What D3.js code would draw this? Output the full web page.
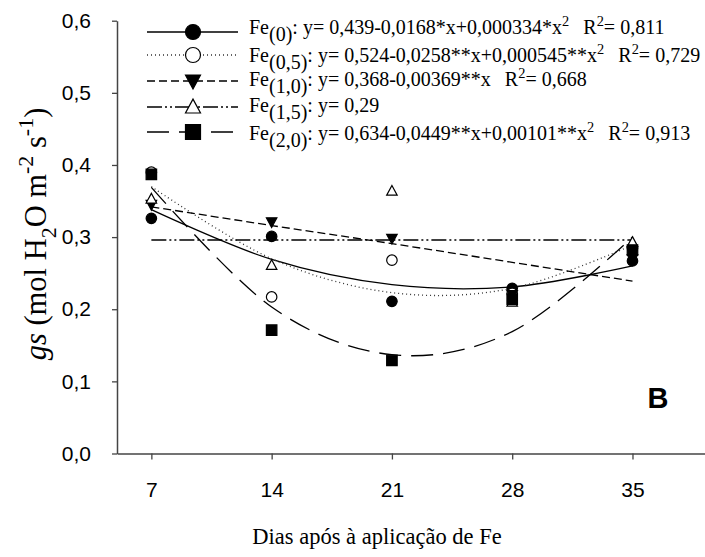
<!DOCTYPE html>
<html>
<head>
<meta charset="utf-8">
<script src="https://cdn.jsdelivr.net/npm/d3@7"></script>
<style>
  body { margin: 0; background: #fff; }
  svg { display: block; }
  .serif { font-family: 'Liberation Serif', 'Times New Roman', Times, 'DejaVu Serif', serif; }
  .sans { font-family: 'Liberation Sans', Arial, Helvetica, sans-serif; }
</style>
</head>
<body>
<svg id="chart" width="705" height="557"></svg>
<script>
// data
const days = [7, 14, 21, 28, 35];
const yTicks = [0, 0.1, 0.2, 0.3, 0.4, 0.5, 0.6];

const obsFe00 = [0.326, 0.301, 0.211, 0.229, 0.267];
const obsFe05 = [0.390, 0.217, 0.268, 0.222, 0.285];
const obsFe10 = [0.345, 0.321, 0.298, 0.220, 0.270];
const obsFe15 = [0.353, 0.261, 0.364, 0.210, 0.293];
const obsFe20 = [0.387, 0.171, 0.129, 0.214, 0.282];

// fitted values at each day (regression curves)
const fitFe00 = [0.338, 0.269, 0.234, 0.231, 0.260];
const fitFe05 = [0.370, 0.270, 0.223, 0.229, 0.289];
const fitFe10 = [0.342, 0.316, 0.291, 0.265, 0.239];
const fitFe15 = [0.296, 0.296, 0.296, 0.296, 0.296];
const fitFe20 = [0.369, 0.203, 0.137, 0.169, 0.300];

const doses = ['(0)', '(0,5)', '(1,0)', '(1,5)', '(2,0)'];
const equations = [
    'y= 0,439-0,0168*x+0,000334*x',
    'y= 0,524-0,0258**x+0,000545**x',
    'y= 0,368-0,00369**x',
    'y= 0,29',
    'y= 0,634-0,0449**x+0,00101**x'
];
const squared = [true, true, false, false, true];
const r2 = ['0,811', '0,729', '0,668', null, '0,913'];

const series = [
    { obs: obsFe00, fit: fitFe00, mark: 'circle', fill: '#000', dash: null, curve: d3.curveCatmullRom.alpha(0) },
    { obs: obsFe05, fit: fitFe05, mark: 'circle', fill: '#fff', dash: '1,3', curve: d3.curveCatmullRom.alpha(0) },
    { obs: obsFe10, fit: fitFe10, mark: 'tridown', fill: '#000', dash: '8,4', curve: d3.curveLinear },
    { obs: obsFe15, fit: fitFe15, mark: 'triup', fill: '#fff', dash: '15,3,2,3,2,3', curve: d3.curveLinear },
    { obs: obsFe20, fit: fitFe20, mark: 'square', fill: '#000', dash: '22,10', curve: d3.curveCatmullRom.alpha(0) }
];

const svg = d3.select('#chart');
const x = d3.scaleLinear().domain([5, 40]).range([117, 718.4]);
const y = d3.scaleLinear().domain([0, 0.6]).range([453.5, 20.7]);

// marker path, centred on 0,0
function markerPath(type, s) {
    const h = s / 2;
    if (type === 'square') return `M${-h},${-h}H${h}V${h}H${-h}Z`;
    if (type === 'triup') return `M0,${-h * 1.05}L${h},${h * 0.8}L${-h},${h * 0.8}Z`;
    if (type === 'tridown') return `M0,${h * 1.05}L${h},${-h * 0.8}L${-h},${-h * 0.8}Z`;
    return null;
}

function drawMarker(g, type, fill, cx, cy, s) {
    if (type === 'circle') {
        g.append('circle')
            .attr('cx', cx).attr('cy', cy).attr('r', s / 2)
            .attr('fill', fill).attr('stroke', '#000').attr('stroke-width', 1.2);
    } else {
        g.append('path')
            .attr('d', markerPath(type, s))
            .attr('transform', `translate(${cx},${cy})`)
            .attr('fill', fill).attr('stroke', '#000').attr('stroke-width', 1.2);
    }
}

// text made of pieces with sub/superscripts
function richText(sel, parts, size) {
    let shift = 0;
    parts.forEach(p => {
        let target = 0;
        if (p.sub) target = size * 0.33;
        if (p.sup) target = -size * 0.42;
        const small = p.sup || (p.sub && p.small);
        const t = sel.append('tspan')
            .text(p.t)
            .style('font-size', (small ? size * 0.72 : size) + 'px');
        if (p.italic) t.style('font-style', 'italic');
        const dy = target - shift;
        if (dy !== 0) t.attr('dy', dy);
        if (p.dx) t.attr('dx', p.dx);
        shift = target;
    });
}

// axes
const yAxis = d3.axisLeft(y)
    .tickValues(yTicks)
    .tickFormat(d => d3.format('.1f')(d).replace('.', ','))
    .tickSize(5)
    .tickSizeOuter(0)
    .tickPadding(21);

const xAxis = d3.axisBottom(x)
    .tickValues(days)
    .tickSize(6)
    .tickSizeOuter(0)
    .tickPadding(23);

const gy = svg.append('g').attr('transform', `translate(${x(5)},0)`).call(yAxis);
const gx = svg.append('g').attr('transform', `translate(0,${y(0)})`).call(xAxis);

[gx, gy].forEach(g => {
    g.attr('font-family', null).attr('font-size', null);
    g.select('.domain').attr('stroke', '#444').attr('stroke-width', 1.5);
    g.selectAll('.tick line').attr('stroke', '#444').attr('stroke-width', 1.3);
    g.selectAll('text').attr('class', 'sans').style('font-size', '21px').attr('fill', '#000');
});

// fitted lines
const line = d3.line().x((d, i) => x(days[i])).y(d => y(d));
series.forEach(s => {
    svg.append('path')
        .attr('d', line.curve(s.curve)(s.fit))
        .attr('fill', 'none')
        .attr('stroke', s.dash === '1,3' ? '#333' : '#000')
        .attr('stroke-width', 1.3)
        .attr('stroke-dasharray', s.dash);
});

// observed points
series.forEach(s => {
    const g = svg.append('g');
    s.obs.forEach((v, i) => drawMarker(g, s.mark, s.fill, x(days[i]), y(v), 10.5));
});

// legend
const legRows = [32, 55, 81, 107, 132];
const legBase = [34, 62, 86, 112, 140];
const leg = svg.append('g');
series.forEach((s, i) => {
    leg.append('line')
        .attr('x1', 147).attr('x2', 238)
        .attr('y1', legRows[i]).attr('y2', legRows[i])
        .attr('stroke', s.dash === '1,3' ? '#333' : '#000')
        .attr('stroke-width', 1.3)
        .attr('stroke-dasharray', s.dash);
    drawMarker(leg, s.mark, s.fill, 193, legRows[i], 15);

    const parts = [{ t: 'Fe' }, { t: doses[i], sub: true }, { t: ': ' + equations[i] }];
    if (squared[i]) parts.push({ t: '2', sup: true });
    if (r2[i]) {
        parts.push({ t: 'R', dx: 14 });
        parts.push({ t: '2', sup: true });
        parts.push({ t: '= ' + r2[i] });
    }
    const txt = leg.append('text')
        .attr('class', 'serif')
        .attr('x', 249).attr('y', legBase[i])
        .attr('fill', '#000');
    richText(txt, parts, 20);
});

// axis titles
const yt = svg.append('text')
    .attr('class', 'serif')
    .attr('transform', 'translate(46,234) rotate(-90)')
    .attr('text-anchor', 'middle')
    .attr('fill', '#000');
richText(yt, [
    { t: 'gs', italic: true },
    { t: ' (mol H' },
    { t: '2', sub: true, small: true },
    { t: 'O m' },
    { t: '-2', sup: true },
    { t: ' s' },
    { t: '-1', sup: true },
    { t: ')' }
], 30.5);

svg.append('text')
    .attr('class', 'serif')
    .attr('x', 377).attr('y', 544)
    .attr('text-anchor', 'middle')
    .style('font-size', '22.5px')
    .attr('fill', '#000')
    .text('Dias após à aplicação de Fe');

svg.append('text')
    .attr('class', 'sans')
    .attr('x', 658).attr('y', 408)
    .attr('text-anchor', 'middle')
    .style('font-weight', 'bold').style('font-size', '29px')
    .attr('fill', '#000')
    .text('B');
</script>
</body>
</html>
